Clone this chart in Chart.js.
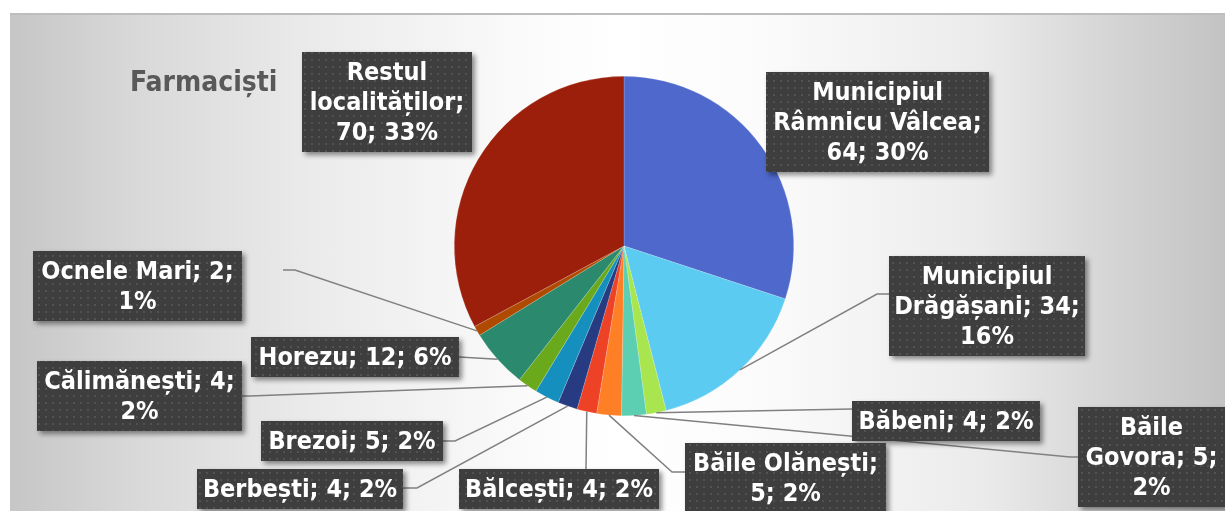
<!DOCTYPE html>
<html>
<head>
<meta charset="utf-8">
<script src="https://cdn.jsdelivr.net/npm/chart.js@4"></script>
<style>
  html, body { margin: 0; padding: 0; background: #fff; }
  #wrap { position: relative; width: 1225px; height: 511px; overflow: hidden; }
  #bg {
    position: absolute; left: 10px; top: 13px; right: 0; bottom: 0;
    border-top: 2px solid #bdbdbd;
    background: linear-gradient(to right, #c6c6c6 0%, #d8d8d8 10%, #ebebeb 25%, #fafafa 42%, #ffffff 50%, #fbfbfb 62%, #ebebeb 80%, #d6d6d6 90%, #c3c3c3 100%);
  }
  canvas { position: absolute; left: 0; top: 0; }
</style>
</head>
<body>
<div id="wrap">
  <div id="bg"></div>
  <canvas id="pie" width="1225" height="511"></canvas>
</div>
<script>
// Farmaciști pe localități
var chartTitle = 'Farmaciști';
var localitati = [
  'Municipiul Râmnicu Vâlcea', 'Municipiul Drăgășani', 'Băbeni', 'Băile Govora',
  'Băile Olănești', 'Bălcești', 'Berbești', 'Brezoi', 'Călimănești', 'Horezu',
  'Ocnele Mari', 'Restul localităților'
];
var farmacisti = [64, 34, 4, 5, 5, 4, 4, 5, 4, 12, 2, 70];
var culori = [
  '#4e68cc', '#5ccbf2', '#a8e54f', '#5ccfb2', '#ff7f26', '#ee4227',
  '#263b82', '#1590be', '#6aa91b', '#2b8a6e', '#b04a00', '#9b1f0a'
];

// casetele etichetelor: colț stânga-sus, lățime, cuvinte pe rând, traseul liniei de legătură
var casete = [
  { x: 766, y: 72,  w: 223, rows: [1, 2, 2], leader: null },
  { x: 889, y: 256, w: 196, rows: [1, 2, 1], leader: [[877, 294], [889, 294]] },
  { x: 852, y: 401, w: 188, rows: [4],       leader: [[852, 409]] },
  { x: 1078, y: 407, w: 147, rows: [1, 2, 1], leader: [[1070, 457], [1078, 457]] },
  { x: 685, y: 443, w: 201, rows: [2, 2],    leader: [[672, 472], [685, 472]] },
  { x: 459, y: 469, w: 200, rows: [3],       leader: [[586, 469]] },
  { x: 197, y: 469, w: 206, rows: [3],       leader: [[417, 488], [403, 488]] },
  { x: 261, y: 421, w: 182, rows: [3],       leader: [[455, 441], [443, 441]] },
  { x: 37,  y: 361, w: 205, rows: [2, 1],    leader: [[250, 396], [242, 396]] },
  { x: 251, y: 337, w: 208, rows: [3],       leader: [[459, 357]] },
  { x: 33,  y: 251, w: 209, rows: [3, 1],    leader: [[295, 270], [283, 270]] },
  { x: 302, y: 52,  w: 170, rows: [1, 1, 2], leader: null }
];

var FONT = 'bold 25px "DejaVu Sans Condensed", "DejaVu Sans", sans-serif';
var TITLE_FONT = 'bold 28px "DejaVu Sans Condensed", "DejaVu Sans", sans-serif';
var LINE_H = 30;

function texturaCaseta(ctx) {
  var t = document.createElement('canvas');
  t.width = 7; t.height = 7;
  var c = t.getContext('2d');
  c.fillStyle = '#3e3e3e';
  c.fillRect(0, 0, 7, 7);
  c.fillStyle = '#525252';
  c.fillRect(3, 3, 2, 2);
  return ctx.createPattern(t, 'repeat');
}

var etichete = {
  id: 'etichete',
  afterDatasetsDraw: function (chart) {
    var ctx = chart.ctx;
    var arcs = chart.getDatasetMeta(0).data;
    var total = farmacisti.reduce(function (a, b) { return a + b; }, 0);
    var model = texturaCaseta(ctx);

    ctx.save();
    // liniile de legătură
    ctx.strokeStyle = '#808080';
    ctx.lineWidth = 1.5;
    arcs.forEach(function (arc, i) {
      var L = casete[i].leader;
      if (!L) return;
      var p = arc.getProps(['x', 'y', 'startAngle', 'endAngle', 'outerRadius'], true);
      var mid = (p.startAngle + p.endAngle) / 2;
      ctx.beginPath();
      ctx.moveTo(p.x + Math.cos(mid) * p.outerRadius, p.y + Math.sin(mid) * p.outerRadius);
      L.forEach(function (pt) { ctx.lineTo(pt[0], pt[1]); });
      ctx.stroke();
    });

    // casetele cu text
    ctx.font = FONT;
    ctx.textAlign = 'center';
    ctx.textBaseline = 'middle';
    farmacisti.forEach(function (v, i) {
      var c = casete[i];
      var pct = Math.round(v / total * 100);
      var words = (localitati[i] + '; ' + v + '; ' + pct + '%').split(' ');
      var lines = [], k = 0;
      c.rows.forEach(function (n) { lines.push(words.slice(k, k + n).join(' ')); k += n; });
      var h = lines.length * LINE_H + 10;

      ctx.save();
      ctx.shadowColor = 'rgba(0,0,0,0.45)';
      ctx.shadowBlur = 5;
      ctx.shadowOffsetX = 3;
      ctx.shadowOffsetY = 3;
      ctx.fillStyle = '#3e3e3e';
      ctx.fillRect(c.x, c.y, c.w, h);
      ctx.restore();
      ctx.fillStyle = model;
      ctx.fillRect(c.x, c.y, c.w, h);

      ctx.fillStyle = '#ffffff';
      lines.forEach(function (s, j) {
        ctx.fillText(s, c.x + c.w / 2, c.y + 5 + LINE_H / 2 + j * LINE_H + 1);
      });
    });

    // titlul
    ctx.font = TITLE_FONT;
    ctx.textAlign = 'left';
    ctx.textBaseline = 'alphabetic';
    ctx.fillStyle = '#595959';
    ctx.fillText(chartTitle, 130, 91);
    ctx.restore();
  }
};

new Chart(document.getElementById('pie').getContext('2d'), {
  type: 'pie',
  data: {
    labels: localitati,
    datasets: [{
      data: farmacisti,
      backgroundColor: culori,
      borderColor: 'rgba(255,255,255,0.35)',
      borderWidth: 0.5
    }]
  },
  options: {
    responsive: false,
    animation: false,
    layout: { padding: { left: 454, right: 431, top: 76, bottom: 95 } },
    plugins: {
      legend: { display: false },
      tooltip: { enabled: false }
    }
  },
  plugins: [etichete]
});
</script>
</body>
</html>
